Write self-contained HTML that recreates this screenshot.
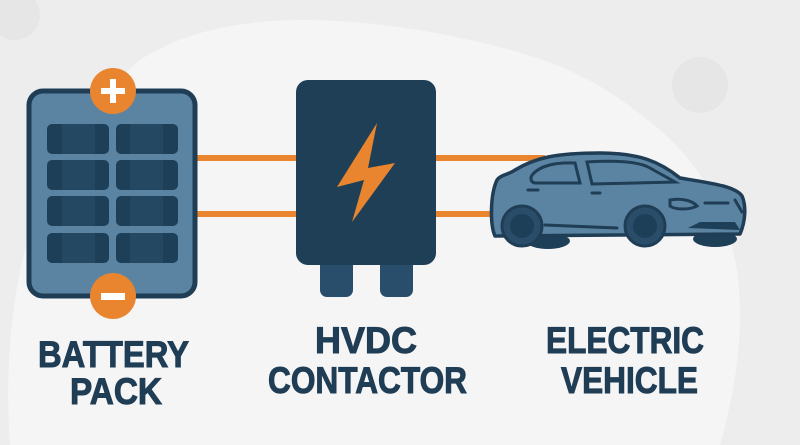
<!DOCTYPE html>
<html><head><meta charset="utf-8"><style>
html,body{margin:0;padding:0;width:800px;height:445px;overflow:hidden;background:#eeeeef}
</style></head><body>
<svg width="800" height="445" viewBox="0 0 800 445" xmlns="http://www.w3.org/2000/svg">
<rect width="800" height="445" fill="#ededee"/>
<path d="M10 445 C0 300 30 150 140 60 C230 0 380 20 470 40 C560 60 600 80 660 130 C740 200 760 300 720 445 Z" fill="#f5f5f6"/>
<circle cx="700" cy="85" r="28" fill="#e6e6e7"/>
<circle cx="15" cy="15" r="25" fill="#e6e6e7"/>
<!-- wires -->
<g stroke="#e8852e" stroke-width="6">
<line x1="195" y1="158" x2="300" y2="158"/><line x1="195" y1="214" x2="300" y2="214"/>
<line x1="432" y1="158" x2="545" y2="158"/><line x1="432" y1="214" x2="500" y2="214"/>
</g>
<!-- battery -->
<rect x="29" y="91" width="166" height="205" rx="14" fill="#5b84a2" stroke="#1f3d55" stroke-width="5"/>
<g fill="#1e3f58">
<rect x="47" y="124" width="62" height="30" rx="5"/><rect x="116" y="124" width="62" height="30" rx="5"/>
<rect x="47" y="160" width="62" height="30" rx="5"/><rect x="116" y="160" width="62" height="30" rx="5"/>
<rect x="47" y="196" width="62" height="30" rx="5"/><rect x="116" y="196" width="62" height="30" rx="5"/>
<rect x="47" y="233" width="62" height="30" rx="5"/><rect x="116" y="233" width="62" height="30" rx="5"/>
</g>
<g fill="#2a4e6a" opacity="0.6">
<rect x="62" y="124" width="33" height="30"/><rect x="130" y="124" width="33" height="30"/>
<rect x="62" y="160" width="33" height="30"/><rect x="130" y="160" width="33" height="30"/>
<rect x="62" y="196" width="33" height="30"/><rect x="130" y="196" width="33" height="30"/>
<rect x="62" y="233" width="33" height="30"/><rect x="130" y="233" width="33" height="30"/>
</g>
<circle cx="113" cy="91" r="23" fill="#e8852e"/>
<rect x="101" y="88" width="24" height="6" fill="#fff"/><rect x="110" y="79" width="6" height="24" fill="#fff"/>
<circle cx="113" cy="296" r="23" fill="#e8852e"/>
<rect x="101" y="293" width="24" height="7" fill="#fff"/>
<!-- contactor -->
<rect x="320" y="258" width="33" height="39" rx="7" fill="#294e6b"/>
<rect x="380" y="258" width="33" height="39" rx="7" fill="#294e6b"/>
<rect x="296" y="80" width="140" height="185" rx="12" fill="#1f3f57"/>
<path d="M377 123 L337 187 L364 180 L352 222 L395 163 L368 168 Z" fill="#e8852e"/>
<!-- car -->
<ellipse cx="548" cy="241" rx="22" ry="8" fill="#1e3f58"/>
<ellipse cx="715" cy="239" rx="22" ry="8" fill="#1e3f58"/>
<path d="M497 180 C500 175 508 175 515 170 C535 158 555 153 600 153 C640 153 660 162 680 178 C710 183 735 186 742 196 C746 205 746 220 740 234 L495 236 C490 225 490 195 497 180 Z" fill="#5b84a2" stroke="#1f3d55" stroke-width="3.5" stroke-linejoin="round"/>
<path d="M533 174 C540 166 555 162 575 163 L580 183 L535 183 C530 182 530 177 533 174 Z" fill="#5b84a2" stroke="#1f3d55" stroke-width="3"/>
<path d="M587 162 C620 160 640 162 650 168 L675 182 L592 184 Z" fill="#5b84a2" stroke="#1f3d55" stroke-width="3"/>
<path d="M670 200 C680 198 692 200 697 206 C690 210 675 210 670 206 Z" fill="none" stroke="#1f3d55" stroke-width="3"/>
<path d="M705 203 L728 203 M735 200 L742 212 M545 225 L617 228 M528 190 L538 190 M592 193 L600 193" stroke="#1f3d55" stroke-width="3" stroke-linecap="round"/>
<path d="M688 228 L700 222 L735 222 L740 230 Z" fill="#1e3f58"/>
<circle cx="522" cy="226" r="20" fill="#2a4e6a" stroke="#1f3d55" stroke-width="3"/>
<circle cx="522" cy="226" r="12" fill="#1e3f58"/>
<circle cx="645" cy="226" r="20" fill="#2a4e6a" stroke="#1f3d55" stroke-width="3"/>
<circle cx="645" cy="226" r="12" fill="#1e3f58"/>
<!-- labels -->
<g font-family="Liberation Sans, sans-serif" font-weight="bold" font-size="37" fill="#1f3d55" stroke="#1f3d55" stroke-width="1">
<text x="38" y="367" textLength="151" lengthAdjust="spacingAndGlyphs">BATTERY</text>
<text x="70" y="404" textLength="92" lengthAdjust="spacingAndGlyphs">PACK</text>
<text x="315" y="353" textLength="102" lengthAdjust="spacingAndGlyphs">HVDC</text>
<text x="268" y="393" textLength="199" lengthAdjust="spacingAndGlyphs">CONTACTOR</text>
<text x="546" y="353" textLength="158" lengthAdjust="spacingAndGlyphs">ELECTRIC</text>
<text x="561" y="393" textLength="137" lengthAdjust="spacingAndGlyphs">VEHICLE</text>
</g>
</svg>
</body></html>
